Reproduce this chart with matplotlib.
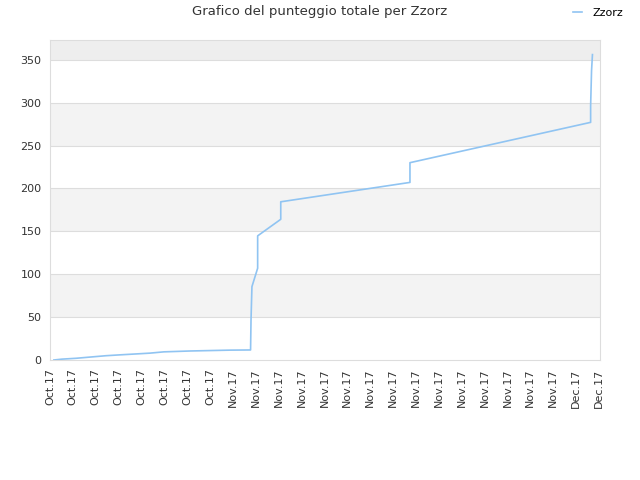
import matplotlib
matplotlib.use('Agg')
import matplotlib.pyplot as plt

# tick labels (one per tick position)
tick_labels = ['Oct.17'] * 8 + ['Nov.17'] * 15 + ['Dec.17'] * 2

# score history, x in tick-position units
pos = [0.17, 0.52, 1.14, 1.79, 2.45, 3.06, 3.72, 4.37, 4.98, 6.12, 7.87,
       8.77, 8.79, 8.83, 9.08, 9.08, 10.09, 10.09, 15.74, 15.74, 23.64, 23.64,
       23.68, 23.72]
score = [0, 1, 2, 3.5, 5, 6, 7, 8, 9.5, 10.5, 11.5,
         11.7, 46.7, 85.5, 107, 144.7, 164, 184.4, 207, 230, 277, 296,
         337, 356]

fig = plt.figure(figsize=(6.4, 4.8), dpi=100)
ax = fig.add_axes([50 / 640, 120 / 480, 550 / 640, 320 / 480])

# fasce alternate
for lo in (50, 150, 250):
    ax.axhspan(lo, lo + 50, color='#f3f3f3', zorder=0, lw=0)
ax.axhspan(350, 380, color='#eeeeee', zorder=0, lw=0)
for yv in range(50, 400, 50):
    ax.axhline(yv, color='#dddddd', lw=0.8, zorder=1)

ax.plot(pos, score, color='#90c4f2', lw=1.2, zorder=3, label='Zzorz')

ax.set_xlim(0, 24.05)
ax.set_ylim(0, 373)
ax.set_xticks(range(len(tick_labels)))
ax.set_xticklabels(tick_labels, rotation=90, fontsize=8, color='#333333')
ax.set_yticks(range(0, 400, 50))
ax.tick_params(axis='y', labelsize=8, labelcolor='#333333', length=0, pad=6)
ax.tick_params(axis='x', length=0, pad=6)
for s in ax.spines.values():
    s.set_color('#dddddd')

fig.text(0.5, 0.99, 'Grafico del punteggio totale per Zzorz', ha='center', va='top',
         fontsize=9.5, color='#333333')
fig.legend(loc='upper right', bbox_to_anchor=(0.99, 1.005), frameon=False, fontsize=8,
           handlelength=0.8, handletextpad=1.0)

fig.savefig('out.png', dpi=100)
